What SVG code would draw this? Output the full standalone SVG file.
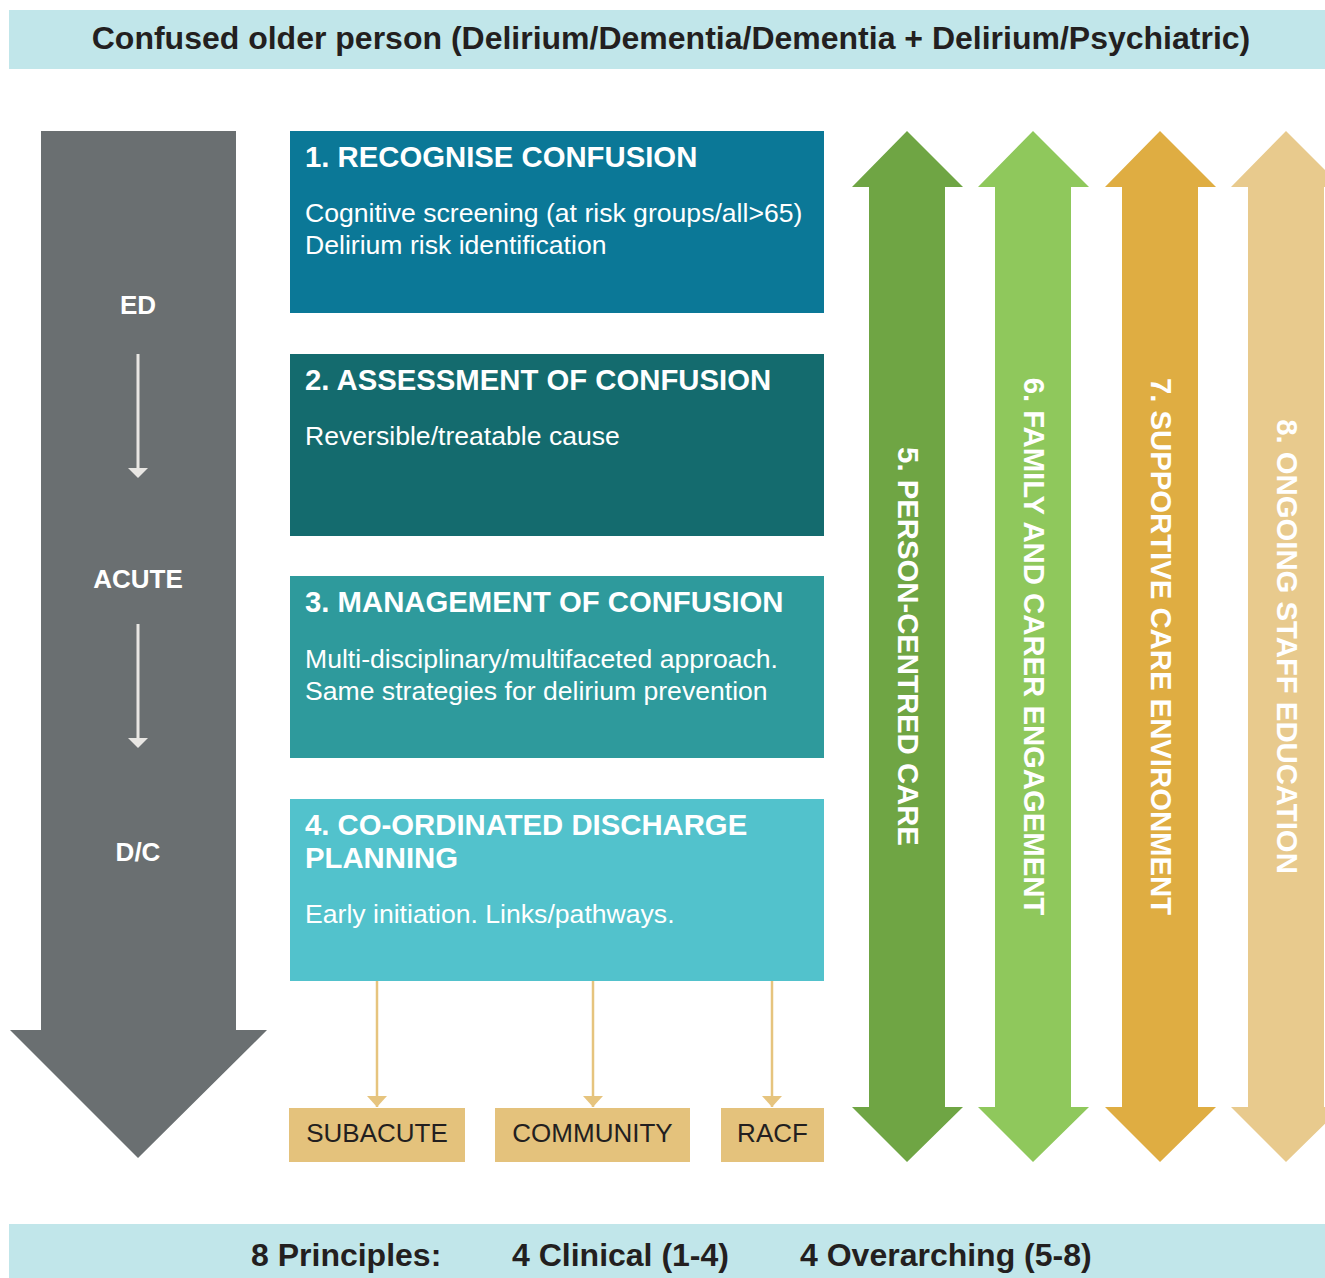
<svg xmlns="http://www.w3.org/2000/svg" width="1325" height="1278" viewBox="0 0 1325 1278">
<style>
text{font-family:"Liberation Sans",Arial,sans-serif}
.band{fill:#c1e6ea}
.bandtxt{font-size:32px;font-weight:bold;fill:#231f20}
.phase{font-size:26px;font-weight:bold;fill:#ffffff;text-anchor:middle}
.ttl{font-size:29.3px;font-weight:bold;fill:#ffffff}
.body{font-size:26.6px;fill:#ffffff}
.dest{fill:#e4c27c}
.desttxt{font-size:26px;fill:#231f20;text-anchor:middle}
.vtxt{font-size:29.3px;font-weight:bold;fill:#ffffff;text-anchor:middle}
.conn{stroke:#e6c47e;stroke-width:2.5;fill:none}
.wline{stroke:#e8e6e3;stroke-width:3;fill:none}
</style>
<defs>
<marker id="gold" markerUnits="userSpaceOnUse" markerWidth="11" markerHeight="20" refX="11" refY="10" orient="auto" viewBox="0 0 11 20">
<path d="M0,0 L11,10 L0,20 Z" fill="#e6c47e"/>
</marker>
</defs>
<rect width="1325" height="1278" fill="#ffffff"/>
<g id="header">
<rect class="band" x="9" y="10" width="1316" height="59"/>
<text class="bandtxt" x="671" y="49" text-anchor="middle">Confused older person (Delirium/Dementia/Dementia + Delirium/Psychiatric)</text>
</g>
<g id="timeline">
<polygon points="41,131 236,131 236,1030 267,1030 138,1158 10,1030 41,1030" fill="#6a6f71"/>
<text class="phase" x="138" y="314">ED</text>
<text class="phase" x="138" y="588">ACUTE</text>
<text class="phase" x="138" y="861">D/C</text>
<line class="wline" x1="138" y1="354" x2="138" y2="469"/>
<polygon points="128,468 148,468 138,478" fill="#e8e6e3"/>
<line class="wline" x1="138" y1="624" x2="138" y2="739"/>
<polygon points="128,738 148,738 138,748" fill="#e8e6e3"/>
</g>
<g id="p1">
<rect x="290" y="131" width="534" height="182" fill="#0b7897"/>
<text class="ttl" x="305" y="167">1. RECOGNISE CONFUSION</text>
<text class="body" x="305" y="222">Cognitive screening (at risk groups/all&gt;65)</text>
<text class="body" x="305" y="254">Delirium risk identification</text>
</g>
<g id="p2">
<rect x="290" y="354" width="534" height="182" fill="#146b6e"/>
<text class="ttl" x="305" y="390">2. ASSESSMENT OF CONFUSION</text>
<text class="body" x="305" y="445">Reversible/treatable cause</text>
</g>
<g id="p3">
<rect x="290" y="576" width="534" height="182" fill="#2e9a9c"/>
<text class="ttl" x="305" y="612">3. MANAGEMENT OF CONFUSION</text>
<text class="body" x="305" y="668">Multi-disciplinary/multifaceted approach.</text>
<text class="body" x="305" y="700">Same strategies for delirium prevention</text>
</g>
<g id="p4">
<rect x="290" y="799" width="534" height="182" fill="#52c2cc"/>
<text class="ttl" x="305" y="835">4. CO-ORDINATED DISCHARGE</text>
<text class="ttl" x="305" y="868">PLANNING</text>
<text class="body" x="305" y="923">Early initiation. Links/pathways.</text>
</g>
<g id="connectors">
<line class="conn" x1="377" y1="981" x2="377" y2="1107" marker-end="url(#gold)"/>
<line class="conn" x1="593" y1="981" x2="593" y2="1107" marker-end="url(#gold)"/>
<line class="conn" x1="772" y1="981" x2="772" y2="1107" marker-end="url(#gold)"/>
</g>
<g id="subacute">
<rect class="dest" x="289" y="1108" width="176" height="54"/>
<text class="desttxt" x="377" y="1142">SUBACUTE</text>
</g>
<g id="community">
<rect class="dest" x="495" y="1108" width="195" height="54"/>
<text class="desttxt" x="592.5" y="1142">COMMUNITY</text>
</g>
<g id="racf">
<rect class="dest" x="721" y="1108" width="103" height="54"/>
<text class="desttxt" x="772.5" y="1142">RACF</text>
</g>
<g id="p5">
<polygon points="907,131 963,187 945,187 945,1107 963,1107 907,1162 852,1107 869,1107 869,187 852,187" fill="#6fa544"/>
<text class="vtxt" transform="translate(898,646.5) rotate(90)">5. PERSON-CENTRED CARE</text>
</g>
<g id="p6">
<polygon points="1033,131 1089,187 1071,187 1071,1107 1089,1107 1033,1162 978,1107 995,1107 995,187 978,187" fill="#8fc85c"/>
<text class="vtxt" transform="translate(1024,646.5) rotate(90)">6. FAMILY AND CARER ENGAGEMENT</text>
</g>
<g id="p7">
<polygon points="1160,131 1216,187 1198,187 1198,1107 1216,1107 1160,1162 1105,1107 1122,1107 1122,187 1105,187" fill="#dfad42"/>
<text class="vtxt" transform="translate(1151,646.5) rotate(90)">7. SUPPORTIVE CARE ENVIRONMENT</text>
</g>
<g id="p8">
<polygon points="1286,131 1342,187 1324,187 1324,1107 1342,1107 1286,1162 1231,1107 1248,1107 1248,187 1231,187" fill="#e8ca8d"/>
<text class="vtxt" transform="translate(1277,646.5) rotate(90)">8. ONGOING STAFF EDUCATION</text>
</g>
<g id="footer">
<rect class="band" x="9" y="1224" width="1316" height="54"/>
<text class="bandtxt" x="251" y="1266">8 Principles:</text>
<text class="bandtxt" x="512" y="1266">4 Clinical (1-4)</text>
<text class="bandtxt" x="800" y="1266">4 Overarching (5-8)</text>
</g>
</svg>
